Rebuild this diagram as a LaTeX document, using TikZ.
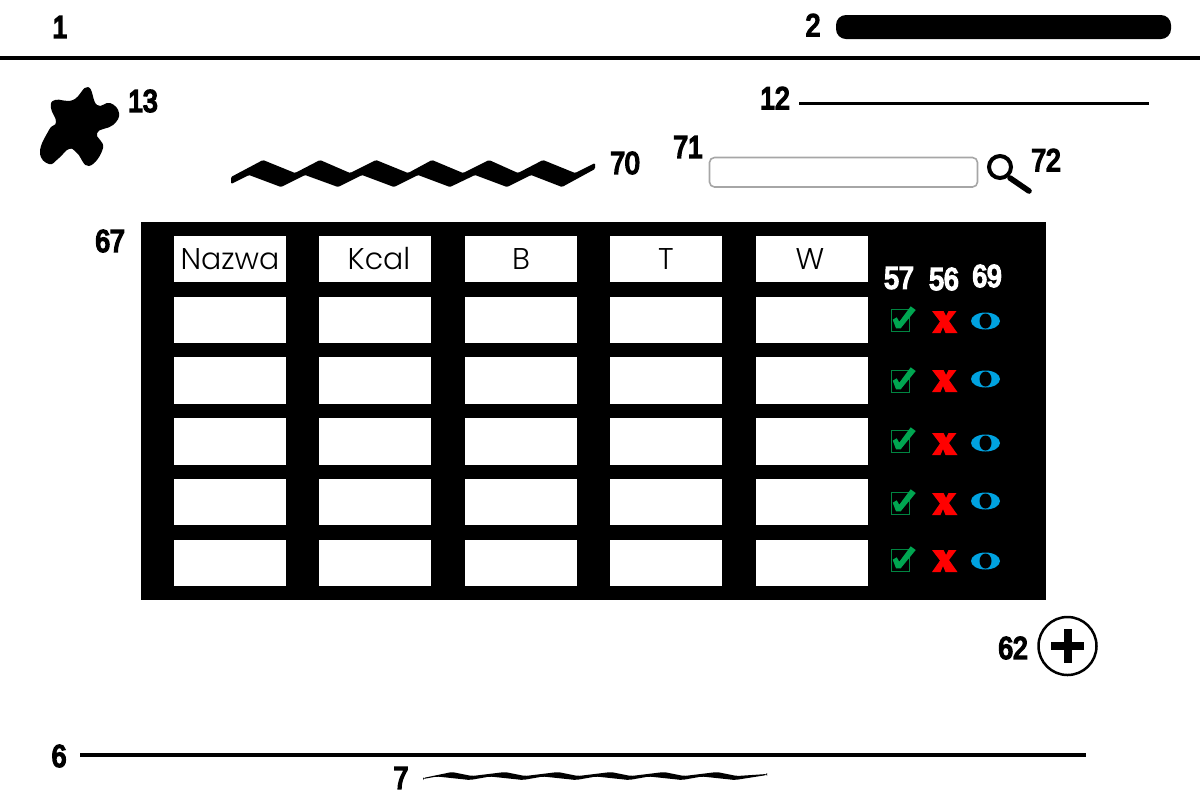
\documentclass[tikz,border=0pt]{standalone}
\usepackage{fontspec}
\newfontfamily\numfont[FakeBold=6,FakeStretch=0.85]{Liberation Sans}
\newfontfamily\headfont{Poppins Light}
\definecolor{okGreen}{HTML}{00A651}
\definecolor{eyeBlue}{HTML}{00A2E0}
\begin{document}
\begin{tikzpicture}[x=0.5pt,y=-0.5pt,
    numLabel/.style={font=\numfont\fontsize{15.5}{15.5}\selectfont,inner sep=0pt},
    numWhite/.style={numLabel,text=white},
    headCell/.style={fill=white,inner sep=0pt,minimum width=56pt,minimum height=23pt,font=\headfont\fontsize{15}{15}\selectfont},
    bodyCell/.style={fill=white,inner sep=0pt,minimum width=56pt,minimum height=23.25pt},
    listCheck/.pic={
        \draw[okGreen!80!black,line width=0.4pt] (-9,-11) rectangle (9,11);
        \fill[okGreen] (-7.3,-.3) -- (-3.3,-2.7) -- (-.7,1.7) -- (10.7,-13.7) -- (15.7,-10) -- (.7,8.3) -- (-4,8.3) -- cycle;
    },
    listCross/.pic={
        \fill[red] (-12.5,-11) -- (-1,-11) -- (1.5,-6) -- (4,-11) -- (12,-11) -- (4.5,-1) -- (13,11) -- (1,11) -- (-1.5,5) -- (-4,11) -- (-12.5,11) -- (-4.5,-.5) -- cycle;
    },
    listEye/.pic={
        \fill[eyeBlue] (0,0) ellipse [x radius=14.5,y radius=8.5];
        \fill[black] (0,0) ellipse [x radius=6,y radius=7.5];
    },
]
\useasboundingbox (0,0) rectangle (1200,800);
% Top bar
\draw[line width=2pt] (0,58) -- (1200,58);
\node[numLabel] (lab1) at (60,27) {1};
\node[numLabel] (lab2) at (813,25) {2};
\fill[rounded corners=5pt] (836,15) rectangle (1171,39);
% Logo
\fill plot[smooth cycle,tension=.8] coordinates {(88,87) (97,105) (110,103) (119,113) (113,125) (97,133) (103,148) (89,166) (77,153) (69,149) (59,158) (49,164) (40,152) (49,130) (56,122) (51,108) (55,100) (73,100)};
\node[numLabel] (lab13) at (143,101) {13};
% Line under the bar
\node[numLabel] (lab12) at (775,98) {12};
\draw[line width=1.5pt] (799,103) -- (1149,103);
% Title
\fill[rounded corners=0.6pt] (231,177) -- (263,160) -- (295,173) -- (320,160) -- (350,173) -- (376,160) -- (408,173) -- (432,160) -- (463,173) -- (489,160) -- (518,173) -- (543,160) -- (575,173) -- (595,163) -- (595,169) -- (562,187) -- (531,175) -- (507,187) -- (475,175) -- (450,187) -- (418,175) -- (394,187) -- (362,175) -- (338,187) -- (305,175) -- (281,187) -- (249,175) -- (231,184) -- cycle;
\node[numLabel] (lab70) at (625,163) {70};
% Search
\node[numLabel] (lab71) at (688,147) {71};
\draw[black!35,fill=white,line width=0.8pt,rounded corners=2.5pt] (709.5,157.5) rectangle (977.5,187);
\draw[line width=2pt] (1000,167) circle [radius=11];
\draw[line width=2.8pt,line cap=round] (1010,178) -- (1029,191);
\node[numLabel] (lab72) at (1046,160) {72};
% Table
\node[numLabel] (lab67) at (110,241) {67};
\fill (141,222) rectangle (1046,600);
\node[headCell] (headNazwa) at (230,259) {Nazwa};
\node[headCell] (headKcal) at (375,259) {\hspace*{4pt}Kcal};
\node[headCell] (headB) at (521,259) {B};
\node[headCell] (headT) at (666,259) {T};
\node[headCell] (headW) at (812,259) {\hspace*{-2pt}W};
\node[numWhite] (lab57) at (899,278) {57};
\node[numWhite] (lab56) at (944,279) {56};
\node[numWhite] (lab69) at (987,276) {69};
% Row 1
\node[bodyCell] (cellA1) at (230,320) {};
\node[bodyCell] (cellB1) at (375,320) {};
\node[bodyCell] (cellC1) at (521,320) {};
\node[bodyCell] (cellD1) at (666,320) {};
\node[bodyCell] (cellE1) at (812,320) {};
\pic at (900,320) {listCheck};
\pic at (944.5,322) {listCross};
\pic at (985.5,321) {listEye};
% Row 2
\node[bodyCell] (cellA2) at (230,380.5) {};
\node[bodyCell] (cellB2) at (375,380.5) {};
\node[bodyCell] (cellC2) at (521,380.5) {};
\node[bodyCell] (cellD2) at (666,380.5) {};
\node[bodyCell] (cellE2) at (812,380.5) {};
\pic at (900,381) {listCheck};
\pic at (944.5,381) {listCross};
\pic at (985.5,379) {listEye};
% Row 3
\node[bodyCell] (cellA3) at (230,441.5) {};
\node[bodyCell] (cellB3) at (375,441.5) {};
\node[bodyCell] (cellC3) at (521,441.5) {};
\node[bodyCell] (cellD3) at (666,441.5) {};
\node[bodyCell] (cellE3) at (812,441.5) {};
\pic at (900,441) {listCheck};
\pic at (944.5,444) {listCross};
\pic at (985.5,443) {listEye};
% Row 4
\node[bodyCell] (cellA4) at (230,502) {};
\node[bodyCell] (cellB4) at (375,502) {};
\node[bodyCell] (cellC4) at (521,502) {};
\node[bodyCell] (cellD4) at (666,502) {};
\node[bodyCell] (cellE4) at (812,502) {};
\pic at (900,503) {listCheck};
\pic at (944.5,504) {listCross};
\pic at (985.5,501) {listEye};
% Row 5
\node[bodyCell] (cellA5) at (230,563) {};
\node[bodyCell] (cellB5) at (375,563) {};
\node[bodyCell] (cellC5) at (521,563) {};
\node[bodyCell] (cellD5) at (666,563) {};
\node[bodyCell] (cellE5) at (812,563) {};
\pic at (900,560) {listCheck};
\pic at (944.5,561) {listCross};
\pic at (985.5,561) {listEye};
% Add button
\node[numLabel] (lab62) at (1013,648) {62};
\draw[line width=1.25pt] (1067.5,646) circle [radius=29];
\draw[line width=4pt] (1051,646) -- (1084,646);
\draw[line width=4pt] (1067.5,629) -- (1067.5,663);
% Footer
\node[numLabel] (lab6) at (59,756) {6};
\draw[line width=2pt] (80,755) -- (1086,755);
\node[numLabel] (lab7) at (401,778) {7};
\fill[rounded corners=1pt] (423,778) -- (452,772) -- (472,776) -- (505,772) -- (525,776) -- (558,772) -- (578,776) -- (611,772) -- (631,776) -- (664,772) -- (684,776) -- (717,772) -- (737,776) -- (767,774) -- (767,775) -- (735,780) -- (702,776.5) -- (682,780) -- (649,776.5) -- (629,780) -- (596,776.5) -- (576,780) -- (543,776.5) -- (523,780) -- (490,776.5) -- (470,780) -- (437,776.5) -- (423,779) -- cycle;
\end{tikzpicture}
\end{document}
